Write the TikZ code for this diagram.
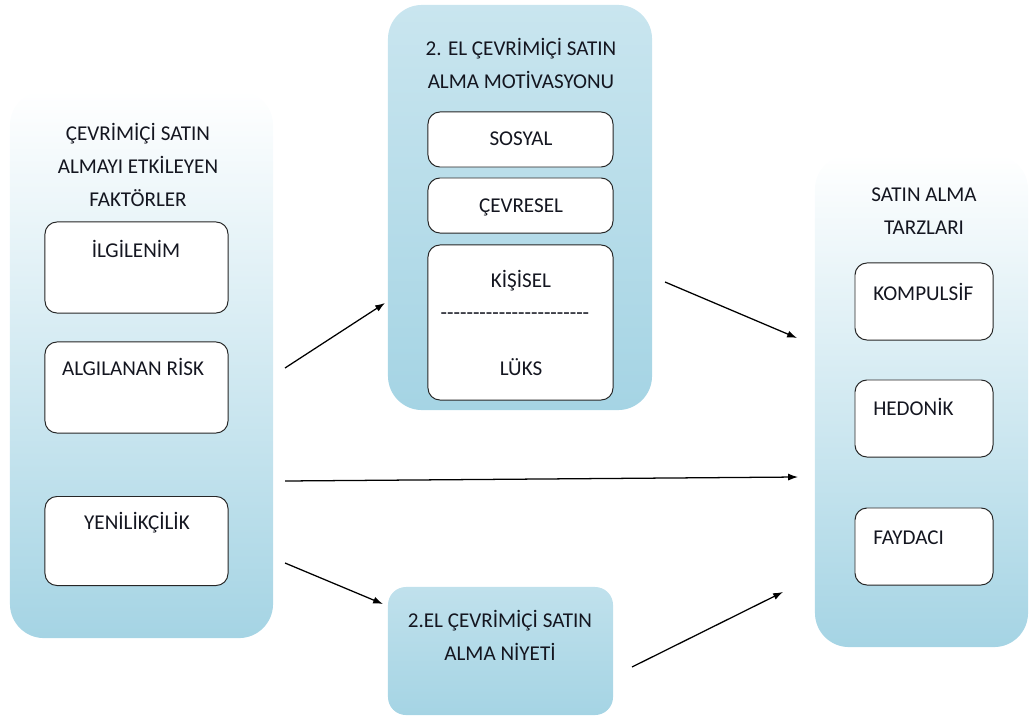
\documentclass[tikz,border=0pt]{standalone}
\usepackage{fontspec}
\setmainfont{Carlito}
\usepackage{tikz}
\usetikzlibrary{arrows.meta}
\usetikzlibrary{shadows}

\definecolor{boxblue}{RGB}{165,212,228}
\definecolor{textdark}{RGB}{20,22,32}

\tikzset{
	bigbox/.style={rounded corners=0.85cm, top color=white, bottom color=boxblue, inner sep=0pt},
	innerbox/.style={draw=black!85, line width=0.7pt, rounded corners=0.3cm, fill=white, inner sep=0pt},
	txt/.style={font=\fontsize{15}{23.5}\selectfont, text=textdark, inner sep=0pt, align=center},
	arr/.style={-{Latex[length=7pt, width=5pt]}, line width=0.9pt, black}
}

\begin{document}
\begin{tikzpicture}[x=0.025cm, y=-0.025cm]
	\useasboundingbox (0,0) rectangle (1030,722);

	% Faktorler
	\node (Fak) [bigbox, minimum width=6.575cm, minimum height=13.675cm] at (141.5,364.5) {};
	\node (FakT) [txt] at (138,165) {ÇEVRİMİÇİ SATIN\\ALMAYI ETKİLEYEN\\FAKTÖRLER};
	\node (Ilg) [innerbox, minimum width=4.575cm, minimum height=2.275cm] at (136.5,267.5) {};
	\node (Risk) [innerbox, minimum width=4.575cm, minimum height=2.275cm] at (136.5,387.5) {};
	\node (Yen) [innerbox, minimum width=4.575cm, minimum height=2.225cm] at (136.5,541) {};
	\node (IlgT) [txt, anchor=base] at (136,257) {İLGİLENİM};
	\node (RiskT) [txt, anchor=base] at (133,375) {ALGILANAN RİSK};
	\node (YenT) [txt, anchor=base] at (137,529) {YENİLİKÇİLİK};

	% Motivasyon
	\node (Mot) [bigbox, top color=boxblue!60, middle color=white, bottom color=boxblue, minimum width=6.6cm, minimum height=10.125cm] at (520,207.5) {};
	\node (MotT) [txt] at (521,63) {2. EL ÇEVRİMİÇİ SATIN\\ALMA MOTİVASYONU};
	\node (Sos) [innerbox, minimum width=4.625cm, minimum height=1.375cm] at (520.5,139.5) {};
	\node (Cev) [innerbox, minimum width=4.625cm, minimum height=1.375cm] at (520.5,205.5) {};
	\node (Kis) [innerbox, minimum width=4.625cm, minimum height=3.875cm] at (520.5,322.5) {};
	\node (SosT) [txt, anchor=base] at (521,146) {SOSYAL};
	\node (CevT) [txt, anchor=base] at (521,212) {ÇEVRESEL};
	\node (KisT) [txt, anchor=base] at (521,287) {KİŞİSEL};
	\node (KisD) [txt, anchor=base] at (515,319) {\foreach \i in {1,...,23}{\mbox{-}}};
	\node (LuksT) [txt, anchor=base] at (521,375) {LÜKS};

	% Niyet
	\node (Niy) [bigbox, rounded corners=0.45cm, top color=boxblue!70, middle color=white, bottom color=boxblue, minimum width=5.625cm, minimum height=3.2cm] at (500.5,651) {};
	\node (NiyT) [txt] at (500,635) {2.EL ÇEVRİMİÇİ SATIN\\ALMA NİYETİ};

	% Tarzlar
	\node (Tarz) [bigbox, minimum width=5.325cm, minimum height=12.3cm] at (921.5,401) {};
	\node (TarzT) [txt] at (924,211) {SATIN ALMA\\TARZLARI};
	\node (Komp) [innerbox, minimum width=3.45cm, minimum height=1.925cm] at (924,301.5) {};
	\node (Hed) [innerbox, minimum width=3.45cm, minimum height=1.925cm] at (924,418.5) {};
	\node (Fay) [innerbox, minimum width=3.45cm, minimum height=1.925cm] at (924,546.5) {};
	\node (KompT) [txt, anchor=base west] at (873,300) {KOMPULSİF};
	\node (HedT) [txt, anchor=base west] at (873,415) {HEDONİK};
	\node (FayT) [txt, anchor=base west] at (873,544) {FAYDACI};

	% Oklar
	\coordinate (FakO1) at (285,368);
	\coordinate (FakO2) at (285,481);
	\coordinate (FakO3) at (285,563);
	\coordinate (MotI) at (385,303);
	\coordinate (MotO) at (665,282);
	\coordinate (NiyI) at (383,604);
	\coordinate (NiyO) at (632,667);
	\coordinate (TarzI1) at (797,338);
	\coordinate (TarzI2) at (798,477);
	\coordinate (TarzI3) at (783,592);

	\draw [arr] (FakO1) -- (MotI);
	\draw [arr] (FakO2) -- (TarzI2);
	\draw [arr] (FakO3) -- (NiyI);
	\draw [arr] (MotO) -- (TarzI1);
	\draw [arr] (NiyO) -- (TarzI3);

\end{tikzpicture}
\end{document}
